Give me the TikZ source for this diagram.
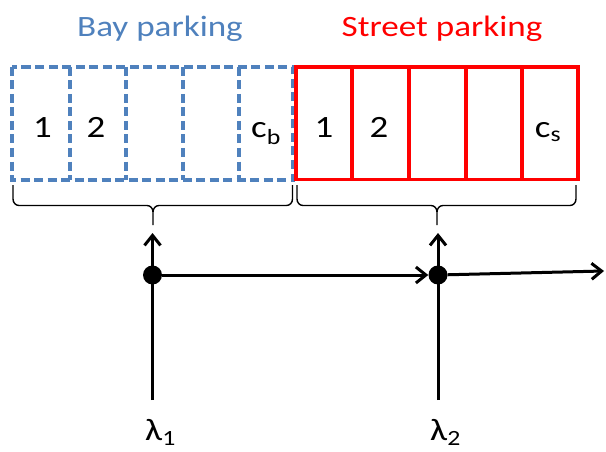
\documentclass[tikz,border=0pt]{standalone}
\usepackage{fontspec}
\setmainfont{Carlito}[FakeStretch=1.19]
\usetikzlibrary{arrows.meta}
\definecolor{bayblue}{HTML}{4F81BD}
\begin{document}
\begin{tikzpicture}[x=1pt,y=-1pt,
  lbl/.style={font=\fontsize{31}{31}\selectfont, anchor=base, inner sep=0pt},
  ttl/.style={font=\fontsize{29.5}{30}\selectfont, anchor=base, inner sep=0pt},
  bayline/.style={draw=bayblue, line width=3.2pt, dash pattern=on 9pt off 4.5pt},
  streetline/.style={draw=red, line width=3.6pt},
  bracep/.style={draw=black, line width=1.4pt},
  flow/.style={draw=black, line width=3pt, -{Straight Barb[length=10pt,width=16pt]}},
  dot/.style={circle, fill=black, minimum size=19pt, inner sep=0pt},
]
\useasboundingbox (0,0) rectangle (606,452);
% bay parking cells
\draw[bayline] (12,67) rectangle (293,180);
\foreach \x in {70,126,183,239} \draw[bayline] (\x,67) -- (\x,180);
% street parking cells
\draw[streetline] (296,67) rectangle (578,179.5);
\foreach \x in {352,409,466,522} \draw[streetline] (\x,67) -- (\x,179.5);
% braces
\draw[bracep] (13,185) -- (13,199) to[out=-90,in=180] (19,205.5) -- (147,205.5) to[out=0,in=90] (153,212) -- (153,225)
  (153,212) to[out=90,in=180] (159,205.5) -- (286.5,205.5) to[out=0,in=-90] (292.5,199) -- (292.5,185);
\draw[bracep] (297,185) -- (297,199) to[out=-90,in=180] (303,205.5) -- (431,205.5) to[out=0,in=90] (437,212) -- (437,225)
  (437,212) to[out=90,in=180] (443,205.5) -- (570,205.5) to[out=0,in=-90] (576,199) -- (576,185);
% titles
\node[ttl, text=bayblue] (tb) at (160,37) {Bay parking};
\node[ttl, text=red] (ts) at (442,37) {Street parking};
% cell labels
\node[lbl] (b1) at (42.5,138) {1};
\node[lbl] (b2) at (96,138) {2};
\node[lbl] (bc) at (266,138) {c\textsubscript{b}};
\node[lbl] (sa) at (324,138) {1};
\node[lbl] (sb) at (379,138) {2};
\node[lbl] (sc) at (548,138) {c\textsubscript{s}};
% flow
\node[dot] (d1) at (152.5,275) {};
\node[dot] (d2) at (438,275) {};
\coordinate (s1) at (152.5,400);
\coordinate (t1) at (152.5,233);
\coordinate (s2) at (438,400);
\coordinate (t2) at (438,233);
\coordinate (e) at (604,271);
\draw[flow] (s1) -- (t1);
\draw[flow] (s2) -- (t2);
\draw[flow] (d1) -- (d2);
\draw[flow] (d2) -- (e);
\node[lbl, anchor=base west] (l1) at (145,440) {λ\textsubscript{1}};
\node[lbl, anchor=base west] (l2) at (430,440) {λ\textsubscript{2}};
\end{tikzpicture}
\end{document}
